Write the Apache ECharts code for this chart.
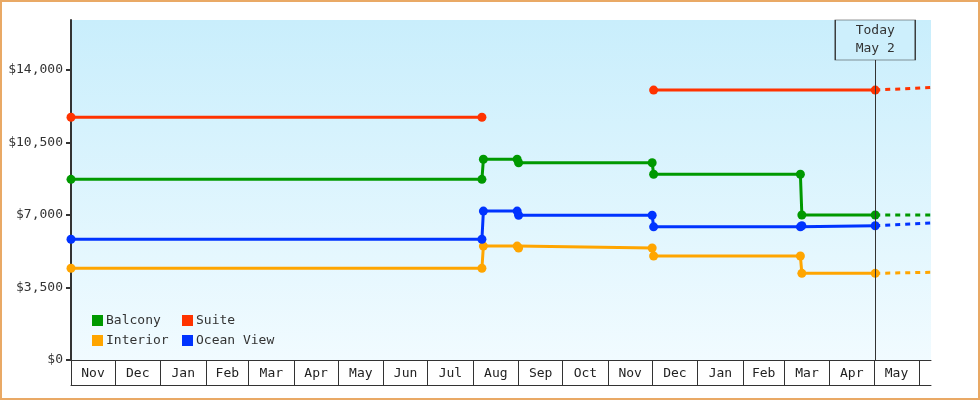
<!DOCTYPE html>
<html>
<head>
<meta charset="utf-8">
<script src="https://cdn.jsdelivr.net/npm/echarts@6/dist/echarts.min.js"></script>
<style>
  html, body { margin: 0; padding: 0; background: #fff; }
  #wrap { position: relative; width: 980px; height: 400px; }
  #chart { position: absolute; left: 0; top: 0; width: 980px; height: 400px; }
  #frame { position: absolute; left: 0; top: 0; width: 980px; height: 400px; box-sizing: border-box; border: 2px solid #e9a965; pointer-events: none; }
</style>
</head>
<body>
<div id="wrap"><div id="chart"></div><div id="frame"></div></div>
<script>
// ---- axis data ----
const axisStart = '2023-11-01';
const axisEnd = '2025-06-09';
const monthStarts = ['2023-11-01','2023-12-01','2024-01-01','2024-02-01','2024-03-01','2024-04-01','2024-05-01','2024-06-01','2024-07-01','2024-08-01','2024-09-01','2024-10-01','2024-11-01','2024-12-01','2025-01-01','2025-02-01','2025-03-01','2025-04-01','2025-05-01','2025-06-01'];
const monthLabels = ['Nov','Dec','Jan','Feb','Mar','Apr','May','Jun','Jul','Aug','Sep','Oct','Nov','Dec','Jan','Feb','Mar','Apr','May'];
const yTicks = [0, 3500, 7000, 10500, 14000];
const yMax = 16414;
const todayDate = '2025-05-02';
const todayLabel = 'Today\nMay 2';

// ---- series data ----
const priceDates = ['2023-11-01','2024-08-07','2024-08-08','2024-08-31','2024-09-01','2024-12-01','2024-12-02','2025-03-12','2025-03-13','2025-05-02'];
const balcony   = [8720, 8720, 9690, 9690, 9525, 9525, 8970, 8970, 7000, 7000];
const interior  = [4430, 4430, 5500, 5500, 5405, 5405, 5020, 5020, 4185, 4185];
const oceanView = [5830, 5830, 7190, 7190, 6990, 6990, 6430, 6430, 6480, 6480];

const suiteDates = ['2023-11-01','2024-08-07','2024-10-15','2024-12-02','2025-05-02'];
const suite      = [11720, 11720, null, 13030, 13030];

const projDates      = ['2025-05-02','2025-06-09'];
const balconyProj    = [7000, 7000];
const interiorProj   = [4185, 4235];
const oceanViewProj  = [6480, 6615];
const suiteProj      = [13030, 13160];

const colors = { Balcony: '#009900', Suite: '#ff3300', Interior: '#ffa500', 'Ocean View': '#0033ff' };

// ---- helpers ----
const FONT = 'DejaVu Sans Mono';
function ts(s) { const p = s.split('-').map(Number); return Date.UTC(p[0], p[1] - 1, p[2]); }
function zip(dates, vals) { return dates.map((d, i) => [ts(d), vals[i]]); }
const monthTicks = monthStarts.map(ts);
const monthMids = monthLabels.map((_, i) => (monthTicks[i] + monthTicks[i + 1]) / 2);

function solid(name, dates, vals) {
  return {
    name, type: 'line', data: zip(dates, vals), connectNulls: false,
    symbol: 'circle', symbolSize: 9, showSymbol: true,
    lineStyle: { width: 3, color: colors[name] },
    itemStyle: { color: colors[name] },
    emphasis: { disabled: true }, z: 3
  };
}
function dashed(name, dates, vals) {
  return {
    name, type: 'line', data: zip(dates, vals),
    symbol: 'none', showSymbol: false,
    lineStyle: { width: 3, type: [5, 5], color: colors[name] },
    itemStyle: { color: colors[name] },
    emphasis: { disabled: true }, z: 2
  };
}

const series = [
  solid('Balcony', priceDates, balcony),
  solid('Suite', suiteDates, suite),
  solid('Interior', priceDates, interior),
  solid('Ocean View', priceDates, oceanView),
  dashed('Balcony', projDates, balconyProj),
  dashed('Suite', projDates, suiteProj),
  dashed('Interior', projDates, interiorProj),
  dashed('Ocean View', projDates, oceanViewProj)
];
// today marker on a helper series
series.push({
  name: 'today', type: 'line', data: [], silent: true, z: 1,
  markLine: {
    silent: true, symbol: 'none', animation: false,
    label: { show: false },
    lineStyle: { color: '#333', width: 1, type: 'solid' },
    data: [{ xAxis: ts(todayDate) }]
  },
  markPoint: {
    silent: true, animation: false,
    data: [{
      coord: [ts(todayDate), yMax],
      symbol: 'rect', symbolSize: [80, 40], symbolOffset: [0, 20],
      itemStyle: { color: '#cdeffc', borderColor: '#333', borderWidth: 1 },
      label: { show: true, position: 'inside', formatter: todayLabel, color: '#333', fontFamily: FONT, fontSize: 13, lineHeight: 18 }
    }]
  }
});

const legendCommon = {
  orient: 'vertical', padding: 0, itemWidth: 11, itemHeight: 11, itemGap: 7,
  icon: 'rect', selectedMode: false,
  textStyle: { color: '#333', fontFamily: FONT, fontSize: 13, lineHeight: 13, padding: [0, 0, 0, -2] }
};

const chart = echarts.init(document.getElementById('chart'), null, { renderer: 'canvas' });
chart.setOption({
  animation: false,
  backgroundColor: '#ffffff',
  grid: {
    left: 71, right: 49, top: 20, bottom: 40, show: true, borderWidth: 0,
    backgroundColor: { type: 'linear', x: 0, y: 0, x2: 0, y2: 1, colorStops: [
      { offset: 0, color: '#c9eefc' }, { offset: 1, color: '#f1fbff' } ] }
  },
  legend: [
    Object.assign({}, legendCommon, { data: ['Balcony', 'Interior'], left: 92, top: 314 }),
    Object.assign({}, legendCommon, { data: ['Suite', 'Ocean View'], left: 182, top: 314 })
  ],
  xAxis: [{
    type: 'value', min: ts(axisStart), max: ts(axisEnd),
    axisLine: { show: true, lineStyle: { color: '#333', width: 1 } },
    axisTick: { show: true, inside: false, length: 25, customValues: monthTicks, lineStyle: { color: '#333', width: 1 } },
    axisLabel: {
      show: true, customValues: monthMids, margin: 7, color: '#222', fontFamily: FONT, fontSize: 13,
      formatter: function (v) {
        let best = 0, bd = Infinity;
        monthMids.forEach((m, i) => { const d = Math.abs(m - v); if (d < bd) { bd = d; best = i; } });
        return monthLabels[best];
      }
    },
    splitLine: { show: false }
  }, {
    type: 'value', min: ts(axisStart), max: ts(axisEnd), position: 'bottom', offset: 25,
    axisLine: { show: true, lineStyle: { color: '#333', width: 1 } },
    axisTick: { show: false }, axisLabel: { show: false }, splitLine: { show: false }
  }],
  yAxis: {
    type: 'value', min: 0, max: yMax,
    axisLine: { show: true, lineStyle: { color: '#333', width: 2 } },
    axisTick: { show: true, length: 5, customValues: yTicks, lineStyle: { color: '#333', width: 2 } },
    axisLabel: {
      customValues: yTicks, margin: 8, color: '#333', fontFamily: FONT, fontSize: 13,
      formatter: v => '$' + Number(v).toLocaleString('en-US')
    },
    splitLine: { show: false }
  },
  series
});
</script>
</body>
</html>
